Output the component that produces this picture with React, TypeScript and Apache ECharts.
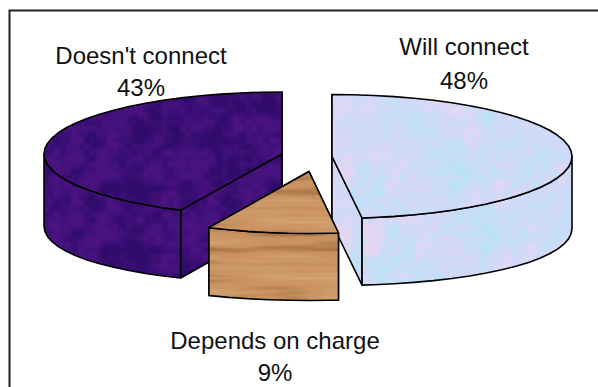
import React, { useEffect, useRef } from "react";
import * as echarts from "echarts";

// Survey shares, clockwise from twelve o'clock.
const categories = ["Will connect", "Depends on charge", "Doesn't connect"];
const shares = [48, 9, 43];
// Slices are painted back to front so the small wedge overlaps its neighbours.
const paintOrder = [2, 0, 1];

const WIDTH = 598;
const HEIGHT = 387;
const RY = 62;
const DEPTH = 67;
const DEPTH_SIDE = 5;
const ARC_STEP = 5;

// Apex of each exploded wedge on the top face, with its horizontal radius.
const apexes = [
  [332, 156.5, 240],
  [309, 171.5, 235],
  [282, 154, 238],
];
// Anchors of the two label lines, per slice.
const labelSpots = [
  [464, 46, 80],
  [275, 340, 372],
  [141, 55, 87],
];

type RGB = [number, number, number];

function hash(x: number, y: number, seed: number) {
  const s = Math.sin(x * 127.1 + y * 311.7 + seed * 74.7) * 43758.5453;
  return s - Math.floor(s);
}

function valueNoise(x: number, y: number, seed: number) {
  const ix = Math.floor(x);
  const iy = Math.floor(y);
  const fx = x - ix;
  const fy = y - iy;
  const ux = fx * fx * (3 - 2 * fx);
  const uy = fy * fy * (3 - 2 * fy);
  const a = hash(ix, iy, seed);
  const b = hash(ix + 1, iy, seed);
  const c = hash(ix, iy + 1, seed);
  const d = hash(ix + 1, iy + 1, seed);
  return (a + (b - a) * ux) * (1 - uy) + (c + (d - c) * ux) * uy;
}

function paintTexture(shade: (x: number, y: number) => RGB) {
  const canvas = document.createElement("canvas");
  canvas.width = WIDTH;
  canvas.height = HEIGHT;
  const ctx = canvas.getContext("2d")!;
  const img = ctx.createImageData(WIDTH, HEIGHT);
  for (let y = 0; y < HEIGHT; y++) {
    for (let x = 0; x < WIDTH; x++) {
      const [r, g, b] = shade(x, y);
      const p = (y * WIDTH + x) * 4;
      img.data[p] = r;
      img.data[p + 1] = g;
      img.data[p + 2] = b;
      img.data[p + 3] = 255;
    }
  }
  ctx.putImageData(img, 0, 0);
  return { image: canvas, repeat: "no-repeat", imageWidth: WIDTH, imageHeight: HEIGHT };
}

const mix = (a: RGB, b: RGB, t: number): RGB => [
  a[0] + (b[0] - a[0]) * t,
  a[1] + (b[1] - a[1]) * t,
  a[2] + (b[2] - a[2]) * t,
];

const clamp01 = (t: number) => Math.max(0, Math.min(1, t));

// Tissue-paper mottling in pale blue, pink and aqua.
function tissue(x: number, y: number): RGB {
  const base: RGB = [208, 218, 248];
  const pink = valueNoise(x / 34, y / 42, 1) * 0.55 + valueNoise(x / 8, y / 8, 2) * 0.45;
  const aqua = valueNoise(x / 30, y / 26, 3) * 0.55 + valueNoise(x / 7, y / 7, 4) * 0.45;
  let c = mix(base, [234, 212, 242], clamp01((pink - 0.42) * 2.6));
  c = mix(c, [186, 226, 246], clamp01((aqua - 0.45) * 2.4));
  return c;
}

// Wood grain: long horizontal streaks.
function oak(x: number, y: number): RGB {
  const broad = valueNoise(x / 70, y / 7, 5);
  const fine = valueNoise(x / 30, y / 2.4, 6);
  const t = clamp01(broad * 0.6 + fine * 0.4);
  return t < 0.5
    ? mix([160, 108, 62], [201, 148, 98], clamp01(t * 2.4))
    : mix([201, 148, 98], [216, 168, 120], clamp01((t - 0.5) * 2));
}

// Deep violet mesh, with a faint vertical and horizontal weave.
function mesh(x: number, y: number): RGB {
  const n = valueNoise(x / 16, y / 16, 7) * 0.6 + valueNoise(x / 6, y / 6, 8) * 0.4;
  const weave = (x % 3 === 0 ? -3 : 0) + (y % 3 === 0 ? -3 : 0);
  const c = mix([50, 12, 110], [76, 20, 130], clamp01((n - 0.3) * 2.2));
  return [c[0] + weave, c[1] + weave * 0.4, c[2] + weave];
}

export default function App() {
  const ref = useRef<HTMLDivElement>(null);

  useEffect(() => {
    if (!ref.current) return;
    const chart = echarts.init(ref.current, undefined, { renderer: "svg" });
    const fills = [paintTexture(tissue), paintTexture(oak), paintTexture(mesh)];
    const total = shares.reduce((a, b) => a + b, 0);
    const startOf = (i: number) =>
      (shares.slice(0, i).reduce((a, b) => a + b, 0) / total) * 360;

    const renderItem = (_: unknown, api: any) => {
      const index = api.value(1) as number;
      const from = startOf(index);
      const to = from + (api.value(0) / total) * 360;
      const [cx, cy, rx] = apexes[index];
      const fill = fills[index];
      const edge = { stroke: "#000", lineWidth: 1.6, lineJoin: "round", fill };

      const rim = (deg: number) => {
        const r = (deg * Math.PI) / 180;
        return [cx + rx * Math.sin(r), cy - RY * Math.cos(r)];
      };
      const below = (deg: number) => {
        const p = rim(deg);
        const s = Math.sin((deg * Math.PI) / 180);
        return [p[0], p[1] + DEPTH + DEPTH_SIDE * s * s];
      };
      const sweep = (a: number, b: number) => {
        const out: number[] = [a];
        for (let d = Math.ceil(a / ARC_STEP) * ARC_STEP; d < b; d += ARC_STEP) {
          if (d > a) out.push(d);
        }
        out.push(b);
        return out;
      };

      const poly = (points: number[][]) => ({
        type: "polygon",
        shape: { points },
        style: edge,
      });
      const bottomApex = [cx, cy + DEPTH];
      const children: any[] = [
        poly([[cx, cy], rim(from), below(from), bottomApex]),
        poly([[cx, cy], rim(to), below(to), bottomApex]),
      ];
      // Outer wall, only where the rim faces the viewer.
      const wallFrom = Math.max(from, 90);
      const wallTo = Math.min(to, 270);
      if (wallTo > wallFrom) {
        const angles = sweep(wallFrom, wallTo);
        children.push(
          poly([...angles.map(rim), ...angles.slice().reverse().map(below)])
        );
      }
      children.push(poly([[cx, cy], ...sweep(from, to).map(rim)]));

      const [lx, ly1, ly2] = labelSpots[index];
      const textStyle = {
        fill: "#111",
        fontFamily: "Liberation Sans",
        fontSize: 24,
        align: "center",
        verticalAlign: "middle",
      };
      children.push(
        { type: "text", style: { ...textStyle, text: categories[index], x: lx, y: ly1 } },
        { type: "text", style: { ...textStyle, text: `${api.value(0)}%`, x: lx, y: ly2 } }
      );
      return { type: "group", children };
    };

    chart.setOption({
      animation: false,
      backgroundColor: "#fff",
      graphic: [
        {
          type: "polyline",
          shape: { points: [[9.5, HEIGHT], [9.5, 10.5], [WIDTH, 10.5]] },
          style: { stroke: "#222", lineWidth: 2, fill: "none" },
        },
      ],
      series: [
        {
          type: "custom",
          coordinateSystem: "none",
          silent: true,
          renderItem,
          data: paintOrder.map((i) => [shares[i], i]),
        },
      ],
    });
    return () => chart.dispose();
  }, []);

  return (
    <div
      ref={ref}
      style={{ position: "absolute", left: 0, top: 0, width: WIDTH, height: HEIGHT }}
    />
  );
}
